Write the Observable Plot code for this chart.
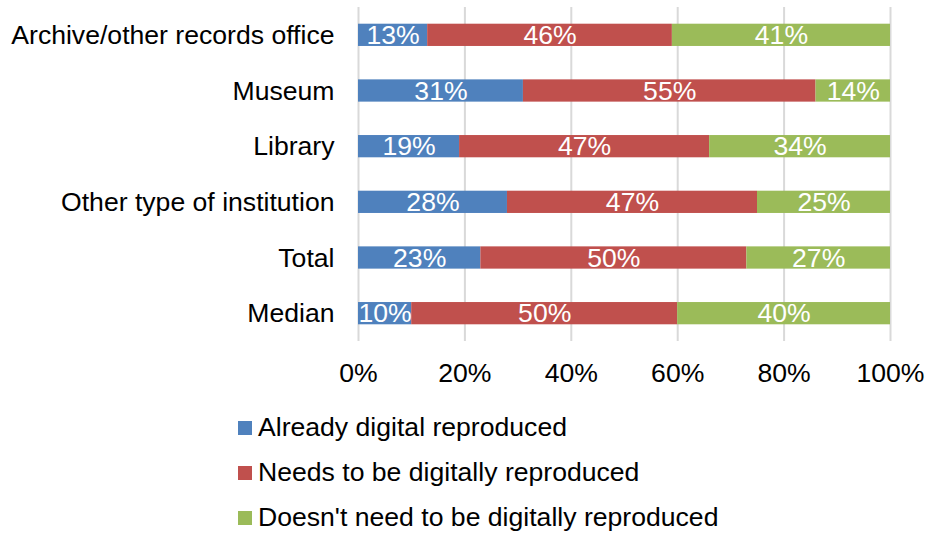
<!DOCTYPE html>
<html>
<head>
<meta charset="utf-8">
<script src="https://cdn.jsdelivr.net/npm/d3@7"></script>
<script src="https://cdn.jsdelivr.net/npm/@observablehq/plot@0.6"></script>
<style>
  body { margin: 0; background: #fff; font-family: "Liberation Sans", Arial, sans-serif; }
  #legend { padding-left: 238px; margin-top: 10px; }
  .item { height: 45px; display: flex; align-items: center; font-size: 26.6px; color: #000; }
  .sw { width: 14px; height: 14px; margin-right: 6px; }
</style>
</head>
<body>
<div id="chart"></div>
<div id="legend"></div>
<script>
const categories = ["Archive/other records office", "Museum", "Library", "Other type of institution", "Total", "Median"];
const series = ["Already digital reproduced", "Needs to be digitally reproduced", "Doesn't need to be digitally reproduced"];
const colors = ["#4F81BD", "#C0504D", "#9BBB59"];
const already = [13, 31, 19, 28, 23, 10];
const needs = [46, 55, 47, 47, 50, 50];
const doesnt = [41, 14, 34, 25, 27, 40];
const xTicks = [0, 0.2, 0.4, 0.6, 0.8, 1];

const values = [already, needs, doesnt];
const data = [];
categories.forEach((c, i) => {
  series.forEach((s, j) => data.push({cat: c, series: s, value: values[j][i] / 100}));
});

const chart = Plot.plot({
  width: 926,
  height: 395,
  marginLeft: 358,
  marginRight: 36,
  marginTop: 7,
  marginBottom: 54,
  style: {fontFamily: "'Liberation Sans', Arial, sans-serif", fontSize: "26.6px", color: "#000", background: "#fff"},
  x: {domain: [0, 1], ticks: xTicks, tickFormat: d3.format(".0%"), label: null, tickSize: 0, tickPadding: 22},
  y: {domain: categories, label: null, tickSize: 0, tickPadding: 24, paddingInner: 0.6, paddingOuter: 0.3, round: false},
  color: {domain: series, range: colors},
  marks: [
    Plot.gridX(xTicks, {stroke: "#d9d9d9", strokeOpacity: 1, strokeWidth: 2}),
    Plot.barX(data, Plot.stackX({x: "value", y: "cat", fill: "series", z: "series", order: series})),
    Plot.text(data, Plot.stackX({x: "value", y: "cat", z: "series", order: series,
      text: d => Math.round(d.value * 100) + "%", fill: "white", fontSize: 26.6}))
  ]
});
document.getElementById("chart").appendChild(chart);

const legend = document.getElementById("legend");
series.forEach((s, i) => {
  const it = document.createElement("div");
  it.className = "item";
  const sw = document.createElement("div");
  sw.className = "sw";
  sw.style.background = colors[i];
  const tx = document.createElement("span");
  tx.textContent = s;
  it.appendChild(sw);
  it.appendChild(tx);
  legend.appendChild(it);
});
</script>
</body>
</html>
